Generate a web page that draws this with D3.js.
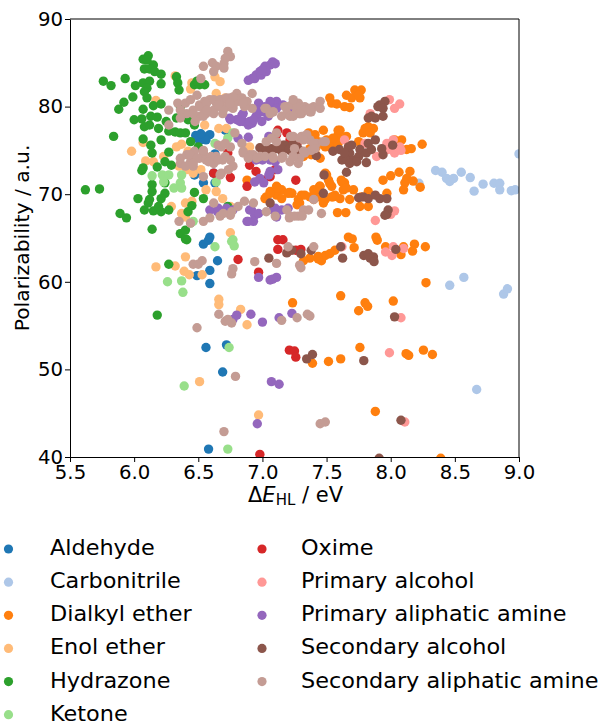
<!DOCTYPE html>
<html>
<head>
<meta charset="utf-8">
<script src="https://cdn.jsdelivr.net/npm/d3@7"></script>
<style>
  html, body { margin: 0; padding: 0; background: #fff; }
  text { font-family: "DejaVu Sans", sans-serif; fill: #000; }
</style>
</head>
<body>
<div id="chart"></div>
<script>
const width = 605;
const height = 723;
const margin = {top: 19, right: 86, bottom: 266, left: 70};

const xTicks = [5.5, 6.0, 6.5, 7.0, 7.5, 8.0, 8.5, 9.0];
const yTicks = [40, 50, 60, 70, 80, 90];

// [gap in eV, polarizability in a.u.]
const aldehyde = [[6.5,76.4],[6.54,76.6],[6.59,76.8],[6.56,76.2],[6.51,76.1],[6.48,76.7],[6.52,76.9],[6.71,77.3],[6.63,74.6],[6.47,72.2],[6.54,71.3],[6.63,71.3],[6.49,72.4],[6.62,72.4],
  [6.54,64.3],[6.58,64.75],[6.59,65.1],[6.65,62.4],[6.59,61.3],[6.49,60.7],[6.59,59.8],[6.56,52.5],[6.72,52.8],[6.69,49.7],[6.58,40.9]];

const carbonitrile = [[8.35,72.7],[8.4,72.5],[8.435,71.8],[8.46,71.45],[8.49,71.8],[8.55,72.5],[8.62,71.9],[8.65,70.35],[8.72,71.15],[8.805,71.25],[8.85,71.25],[8.85,70.5],[8.94,70.4],[8.97,70.5],[8.22,71.25],[9.0,74.6],
  [8.46,59.6],[8.57,60.5],[8.88,58.6],[8.91,59.2],[8.67,47.7]];

const dialkylEther = [[7.525,81],[7.54,80.4],[7.58,80.3],[7.64,80],[7.68,79.9],[7.655,81.3],[7.695,81],[7.72,81.9],[7.77,81.9],[7.76,81],[7.75,81.3],
  [7.475,77.3],[7.605,77.3],[7.37,76.6],[7.435,76],[7.525,76],[7.565,75.8],[7.59,76.8],[7.49,75.4],[7.41,74.7],[7.37,75.2],[7.45,74.1],[7.785,77],[7.825,77.7],[7.865,77.5],[7.8,77.5],[7.84,77],[7.75,76],[8.085,76.2],[8.03,76.2],[8.16,75.2],[8.245,75.7],[8.125,75.1],
  [7.32,74.3],[7.38,74.5],[7.42,75.4],[7.525,75.4],[7.59,77.3],[7.59,75.8],[7.655,76.6],[7.55,76.4],[7.36,77],[7.41,76.8],[7.5,76.2],
  [7.94,71.6],[8,72.1],[8.065,72.5],[8.15,72.6],[8.125,71.8],[8.11,71.3],[8.175,71.5],[8.1,70.5],[8.23,70.8],
  [7.23,70.1],[7.28,69.4],[7.305,69.9],[7.37,69.7],[7.41,70.1],[7.445,70.9],[7.49,72.4],[7.515,71.6],[7.54,70.9],[7.55,69.7],[7.605,69.5],[7.62,71.4],[7.63,70.5],[7.64,71.3],[7.71,70.5],[7.68,69.4],[7.825,70.3],[7.27,68.8],[7.49,69.4],[7.77,69.7],[7.97,70.1],[7.76,68.6],[7.825,68.6],[7.585,67.9],[7.65,67.9],[7.4,69.4],[7.435,69.7],
  [7.29,69],[7.33,69.9],[7.4,70.5],[7.45,70.9],[7.5,72.2],[7.525,71.2],[7.565,69.9],[7.615,71.6],[7.655,70.7],[7.475,69],[7.54,69.7],
  [7.06,70.3],[7.11,70.9],[7.15,70.5],[7.21,70.2],[7.11,69.9],[7.03,69.7],[7.15,69.5],[6.88,71.6],[7.02,69.5],[7.06,70.1],[7.2,70.1],[7.12,70.7],
  [7.67,65.1],[7.7,64.9],[7.885,65.1],[7.895,64.75],[7.715,63.9],[7.96,64],[8.185,64.3],[8.17,63.5],[8.27,64],[8.08,63.1],[8.1,64],
  [7.37,62.7],[7.435,62.9],[7.46,62.4],[7.49,63],[7.525,63.2],[7.565,63.6],[7.435,62.6],[7.32,62.4],[8.275,59.9],[7.61,58.4],[7.8,57.6],[7.82,57.2],[7.75,56.7],[8.02,57.8],[7.235,57.6],
  [7.76,52.5],[8.12,51.8],[8.14,51.6],[8.255,52.2],[8.325,51.7],[7.39,50.7],[7.515,50.9],[7.61,51.2],[7.88,45.2],[8.39,39.85]];

const enolEther = [[6.32,83.5],[6.45,82.7],[6.67,82.85],[6.44,82],[6.63,83.4],[6.64,81.5],[6.71,81],[6.17,80.7],[5.98,74.9],[6.07,75.9],[6.09,73.8],[6.15,73.7],[6.23,74.3],[6.33,75.4],[6.37,75.7],[6.42,74.9],[6.9,75.4],[6.66,77.5],[6.72,77.5],[6.55,77.9],
  [6.41,72.8],[6.46,72.4],[6.52,72.8],[6.35,73.2],[6.29,68.6],[6.4,69],[6.45,69.2],[6.37,67.8],[6.4,67.4],[6.56,70.5],[6.64,70.3],[6.69,69.5],[6.75,68.6],[6.75,65.6],
  [6.17,61.7],[6.32,61.8],[6.4,62.85],[6.39,61.2],[6.43,60.8],[6.53,60.8],[6.66,58],[6.66,57.4],[6.83,56.85],[6.88,55.1],[6.51,48.6],[6.97,44.8]];

const hydrazone = [[6.11,85.8],[6.07,85.4],[6.1,85.3],[6.15,84.75],[6.08,84.3],[6.12,84.3],[6.16,84],[6.21,83.7],[6.21,82.6],[5.76,82.9],[5.82,82.4],[5.93,83.2],[6.01,82.4],[6.07,82.7],[6.12,82.9],[6.1,82.1],[6.08,81.7],[5.99,81.1],[6.1,81],[5.92,80.5],[5.88,79.7],[6.07,79.7],[6.15,80.1],[6.21,80.3],
  [6,78.5],[6.06,78.6],[6.13,78.9],[6.18,78.8],[6.08,77.7],[6.12,77.9],[6.19,77.5],[6.25,78.3],[6.27,77.2],[6.32,77.1],[6.36,77],[6.4,77],[5.84,76.6],[6.07,76.3],[6.21,76.2],[6.13,75.6],[6.14,74.7],[6.27,74.8],[6.24,73.7],[6.18,73.1],[6.29,73.3],[6.07,73],[6.06,72.7],[6.44,76],[6.5,75.4],
  [5.62,70.5],[5.73,70.6],[6.14,71.1],[6.14,70.3],[6.24,71.3],[6.24,70.1],[6.21,69.5],[6.03,69.5],[6.12,69.4],[6.11,69],[6.08,68.2],[6.15,68.1],[6.21,68],[6.27,68.2],[6.19,68.6],[5.89,67.8],[5.94,67.3],[6.14,66],[6.36,65.5],[6.4,65.9],[6.4,64.9],[6.47,70.2],[6.54,69.5],[6.45,68.7],[6.42,68],
  [6.47,82.5],[6.51,82.5],[6.55,82.5],[6.49,82.9],[6.33,83.4],[6.34,82.7],[6.35,81.9],[6.36,80],[6.33,78.7],[6.42,78.5],[6.47,77.9],[6.73,68.6],[6.41,64.8],[6.27,62],[6.18,56.2]];

const ketone = [[6.14,72.1],[6.22,72.2],[6.27,72.2],[6.23,71.4],[6.37,72.2],[6.36,71.3],[6.31,70.7],[6.37,70.7],[6.63,75.8],[6.73,76.4],[6.77,77],[6.64,71.4],[6.46,66.9],[6.44,66.7],[6.77,64.8],
  [6.63,64],[6.76,64.6],[6.78,64.1],[6.26,60],[6.37,60.1],[6.38,58.8],[6.74,52.5],[6.39,48.1],[6.73,40.9]];

const oxime = [[7.12,77.3],[7.19,77],[7.11,76.8],[6.9,73.3],[6.95,72.6],[6.88,70.9],[7.06,72],[7.26,71.6],[6.62,72.4],[6.75,71.9],[6.73,74.7],[7.1,72.8],[7.01,71.6],[7.27,75.8],[7.28,75],[7.24,76],[7.215,76.2],[7.29,74.5],
  [7.12,64.8],[7.16,64.8],[7.12,63.7],[6.81,62.55],[6.97,61.1],[7.26,63.6],[7.3,63.7],[6.98,40.3],[7.21,52.2],[7.25,52.1],[7.26,51.4]];

const primaryAlcohol = [[7.99,80.8],[8.07,80.3],[8.03,79.8],[7.84,79.2],[7.64,76.2],[7.89,74.3],[7.97,75.8],[8.02,76.2],[8.07,75.4],[8.03,74.7],[7.8,75.8],[8.02,75.3],[8.08,75],[7.98,75.1],
  [7.88,67],[8.03,68.1],[8.0,67.7],[7.96,63.4],[8.02,64],[8.1,63.8],[8.01,63],[7.62,64],[8.08,55.9],[7.99,51.9],[8.11,44]];

const primaryAmine = [[7.08,85.1],[7.06,84.75],[7.02,84.6],[6.98,84],[6.95,83.6],[6.92,83.2],[6.89,83],[6.94,83.2],[6.99,83.6],[7.03,84],[7.1,84.9],[7,84.2],
  [6.8,78.5],[6.85,78.3],[6.92,78.1],[6.95,78.9],[7.01,79.4],[7.06,80.2],[7.11,80.6],[7.16,80.2],[7.24,79.6],[6.84,79],[6.89,77.9],[6.75,78.5],[6.89,76.5],[7.05,76.6],[6.81,76.4],
  [6.745,78.67],[6.85,79.2],[6.9,78.3],[6.955,78.9],[6.995,78.3],[7.045,78.9],[6.97,80.4],[7.06,80.6],[6.955,79.6],[6.825,78.3],[6.93,78.5],[7.02,80],[7.11,79.8],
  [6.95,73.9],[7,73.9],[7.06,73.9],[7.1,73.7],[6.98,71.8],[7.01,71.3],[6.94,71.4],[7.06,72.6],[7.12,72.8],[7.05,72.2],
  [6.59,68.2],[6.65,68],[6.72,68.2],[6.77,68.2],[6.9,68.2],[6.94,67.6],[6.88,66.9],[6.93,66.9],[7.08,68.2],[7.15,68.2],[7.11,67.4],[6.655,68.4],[6.72,68.4],[6.915,68.2],[6.97,67.8],[6.89,66.9],[7.1,68.4],[7.2,68.4],
  [6.97,60.5],[7.06,60.2],[7.11,60.5],[7.08,60.3],[6.8,56.2],[6.77,55.7],[6.91,56.3],[7,55.4],[7.13,55.9],[7.23,56.4],[7.07,48.6],[7.13,48.3],[6.96,43.8]];

const secondaryAlcohol = [[7.955,80.6],[7.915,80.2],[7.9,80],[7.94,79.8],[7.85,78.9],[7.88,78.7],[7.94,78.9],[7.825,78.7],
  [7.55,74.9],[7.6,75.1],[7.62,73.9],[7.67,75.4],[7.68,74.7],[7.695,75.6],[7.655,73.9],[7.71,73.9],[7.75,74.3],[7.76,75.1],[7.81,74.7],[7.825,75.8],[7.88,76.2],[7.93,75.2],[7.94,74.5],[7.81,73.6],[7.655,72.5],[8.015,75.6],[7.85,75.1],[7.68,73.5],[7.735,73.7],[7.64,74.7],
  [7.42,74.4],[7.48,72.2],[7.475,70.1],[7.75,69.6],[7.785,69.7],[7.825,69.5],[7.88,69.9],[7.915,69.5],[7.97,69.5],[7.98,68.2],[7.97,67.7],[7.955,67.6],
  [6.98,75.3],[7.03,75],[7.07,75.2],[7.135,75.2],[7.175,75.6],[7.215,75],[7.15,74.9],[7.06,74.9],[7.11,75.2],[7.16,75.6],[7.21,75.2],[7.27,75.4],[7.29,75],[7.24,75.8],[7.06,69],
  [7.05,62.7],[7.19,63.3],[7.23,63.6],[7.3,63.2],[7.38,63.6],[7.61,64],[7.625,62.7],[7.79,63],[7.825,63.2],[7.865,62.85],[7.84,62.7],[7.87,62.3],[8.04,63.7],[8.03,56],[7.345,51.2],[7.39,51.7],[7.79,51],[8.08,44.2],[7.91,39.85]];

const secondaryAmine = [[6.73,86.3],[6.75,85.7],[6.71,85.5],[6.7,84.9],[6.61,85],[6.64,84.6],[6.7,84.4],[6.62,84],[6.54,84.6],[6.52,83.2],
  [6.34,80.4],[6.4,80.4],[6.44,80.8],[6.49,81.3],[6.51,80.2],[6.55,80.6],[6.59,80.8],[6.64,80.4],[6.69,80.8],[6.75,81],[6.8,81.5],[6.84,81],[6.92,81.5],[6.92,79.8],[6.88,80.6],[6.77,79.8],[6.69,79.2],[6.62,79.6],[6.56,79.2],[6.51,78.9],[6.46,79.6],[6.41,79.2],[6.36,79.6],[6.54,79.8],[6.67,80],[6.73,80],[6.81,80.6],[6.86,80],[7.03,79.8],[7.08,79.4],[7.19,80],[7.24,80.2],[7.28,80.4],[7.29,79.2],[7.21,79],[7.15,78.9],[6.27,79.6],[6.27,77.9],[6.36,78.7],
  [6.46,79.2],[6.51,80],[6.565,80.4],[6.62,80.8],[6.67,80.8],[6.72,81],[6.77,81.1],[6.85,80.4],[6.77,80],[6.695,79.6],[6.62,79.2],[6.54,78.9],[6.475,78.3],[6.565,79.6],[6.655,80.2],[6.745,80.4],
  [7.02,79.8],[7.085,79.4],[7.175,80],[7.19,79.2],[7.24,80.4],[7.265,79.4],[7.33,80],[7.37,79.4],[7.4,80],[7.305,79.2],[7.215,78.9],[7.06,79.2],
  [7.23,80.2],[7.27,80],[7.33,79.6],[7.38,79.4],[7.45,79.8],[7.45,80.6],[7.37,79.8],[7.29,79.2],[7.24,78.9],[7.24,80.8],
  [6.36,74.1],[6.41,74.5],[6.47,74.9],[6.54,74.7],[6.36,73.5],[6.44,73.7],[6.51,74.1],[6.56,73.9],[6.64,74.3],[6.68,75.4],[6.75,75.4],[6.69,73.9],[6.75,73.9],[6.77,73.2],[6.68,72.4],[6.54,72],[6.62,73.5],[6.84,75.8],[6.85,74.7],[6.93,74.5],[7.03,76],[7.11,77],[7.11,76],[6.46,73.2],[6.4,73.2],[6.9,74.5],[6.98,74.3],[7.08,74.3],[7.16,74.3],[7.24,74.3],[7.29,74.1],
  [6.435,74.5],[6.49,74.1],[6.54,75],[6.6,74.3],[6.655,73.9],[6.71,74.3],[6.735,72.8],[6.67,72.2],[6.655,75.6],[6.71,75.8],[6.785,77],[6.58,73.7],[6.46,73.5],
  [6.85,74.9],[6.89,74.1],[6.955,74.1],[7.02,74.3],[7.085,74.1],[7.15,74.1],[7.215,73.7],[7.33,74.7],[7.38,75],[7.42,75.8],[7.475,76],[7.37,76.2],[7.305,76.6],[7.24,76.6],[7.07,76.4],
  [7.22,76.6],[7.29,76.4],[7.345,76.8],[7.4,75.8],[7.41,75.2],[7.32,74.9],[7.24,74.3],[7.28,73.5],[7.49,76],[7.25,75.2],[7.32,76.2],
  [6.35,66.9],[6.44,66.7],[6.54,66.9],[6.59,67.3],[6.67,67.5],[6.75,67.6],[6.81,68.6],[6.86,69.2],[6.93,69],[6.62,69],[7.03,68],[7.1,67.5],[7.19,68.2],[7.21,67.3],[7.28,67.5],[7.215,67.5],[7.25,67.5],[7.32,68.2],[7.36,68.2],[7.4,69.4],[7.46,67.8],[7.31,67.5],[6.695,67.8],[6.76,68],
  [6.46,62],[6.53,62.4],[6.5,62],[6.77,61.5],[6.76,60.9],[6.94,62.3],[7.11,62.1],[7.2,64],[7.29,61.9],[7.3,61.6],[7.4,64],
  [6.49,54.75],[6.66,56.3],[6.71,55.5],[6.76,55.3],[6.73,55.7],[7.15,55.6],[7.27,55.9],[7.35,56.3],[7.37,56.1],[6.79,49.2],[6.7,42.9],[7.45,43.8],[7.49,44]];

const seriesNames = ["Aldehyde", "Carbonitrile", "Dialkyl ether", "Enol ether", "Hydrazone", "Ketone",
    "Oxime", "Primary alcohol", "Primary aliphatic amine", "Secondary alcohol", "Secondary aliphatic amine"];
const seriesValues = [aldehyde, carbonitrile, dialkylEther, enolEther, hydrazone, ketone,
    oxime, primaryAlcohol, primaryAmine, secondaryAlcohol, secondaryAmine];
const seriesColors = ["#1f77b4", "#aec7e8", "#ff7f0e", "#ffbb78", "#2ca02c", "#98df8a",
    "#d62728", "#ff9896", "#9467bd", "#8c564b", "#c49c94"];

const svg = d3.select("#chart").append("svg")
    .attr("width", width)
    .attr("height", height)
    .style("display", "block");

const x = d3.scaleLinear().domain([5.5, 9.0]).range([margin.left, width - margin.right]);
const y = d3.scaleLinear().domain([40, 90]).range([height - margin.bottom, margin.top]);

drawPoints();
drawAxes();
drawLegend();

function drawPoints() {
    svg.append("clipPath").attr("id", "plot-clip").append("rect")
        .attr("x", margin.left)
        .attr("y", margin.top)
        .attr("width", width - margin.left - margin.right)
        .attr("height", height - margin.top - margin.bottom);

    const plot = svg.append("g").attr("clip-path", "url(#plot-clip)");

    seriesNames.forEach((name, i) => {
        plot.append("g")
            .attr("fill", seriesColors[i])
            .selectAll("circle")
            .data(seriesValues[i])
            .join("circle")
            .attr("cx", d => x(d[0]))
            .attr("cy", d => y(d[1]))
            .attr("r", 4.7);
    });
}

function drawAxes() {
    const xAxis = svg.append("g")
        .attr("transform", `translate(0,${height - margin.bottom})`)
        .call(d3.axisBottom(x).tickValues(xTicks).tickFormat(d3.format(".1f")).tickSize(5).tickPadding(3).tickSizeOuter(0));
    const yAxis = svg.append("g")
        .attr("transform", `translate(${margin.left},0)`)
        .call(d3.axisLeft(y).tickValues(yTicks).tickSize(5).tickPadding(2).tickSizeOuter(0));

    [xAxis, yAxis].forEach(axis => {
        axis.selectAll("text").style("font-size", "19.7px").style("font-family", "'DejaVu Sans'");
        axis.selectAll("line, path").attr("stroke", "#000").attr("stroke-width", 1);
    });

    // top and right spines
    svg.append("path")
        .attr("d", d3.line()([[margin.left, margin.top], [width - margin.right, margin.top], [width - margin.right, height - margin.bottom]]))
        .attr("fill", "none")
        .attr("stroke", "#000")
        .attr("stroke-width", 1);

    const xLabel = svg.append("text")
        .attr("x", 295.5)
        .attr("y", 502)
        .attr("text-anchor", "middle")
        .style("font-size", "21px");
    xLabel.append("tspan").text("Δ");
    xLabel.append("tspan").style("font-style", "italic").text("E");
    xLabel.append("tspan").attr("dy", 3).style("font-size", "15px").text("HL");
    xLabel.append("tspan").attr("dy", -3).text(" / eV");

    svg.append("text")
        .attr("transform", `translate(29,${(margin.top + height - margin.bottom) / 2}) rotate(-90)`)
        .attr("text-anchor", "middle")
        .style("font-size", "20.3px")
        .text("Polarizability / a.u.");
}

function drawLegend() {
    const columns = [{mark: 8.5, label: 50}, {mark: 262, label: 301}];
    const row = d3.scaleLinear().domain([0, 5]).range([549, 714.7]);

    const items = svg.append("g").selectAll("g")
        .data(seriesNames)
        .join("g")
        .attr("transform", (d, i) => `translate(0,${row(i % 6)})`);

    items.append("circle")
        .attr("cx", (d, i) => columns[Math.floor(i / 6)].mark)
        .attr("r", 4.6)
        .attr("fill", (d, i) => seriesColors[i]);

    // labels in the reference run a little wider than their height
    items.append("text")
        .attr("transform", (d, i) => `translate(${columns[Math.floor(i / 6)].label},6) scale(1.07,1)`)
        .style("font-size", "20.9px")
        .text(d => d);
}
</script>
</body>
</html>
